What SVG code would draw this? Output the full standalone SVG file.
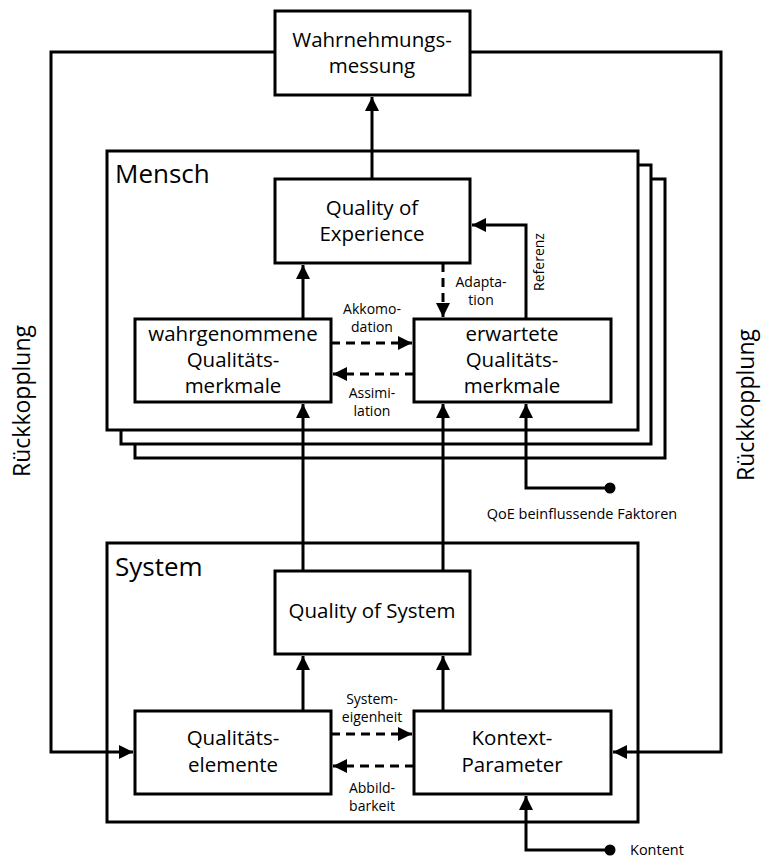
<svg xmlns="http://www.w3.org/2000/svg" width="761" height="859" viewBox="0 0 761 859">
  <style>
    .box { fill: #fff; stroke: #000; stroke-width: 3; }
    .frame { fill: #fff; stroke: #000; stroke-width: 3; }
    .line { fill: none; stroke: #000; stroke-width: 3; }
    .dash { fill: none; stroke: #000; stroke-width: 3; stroke-dasharray: 9 6; }
    .t { font-family: "Open Sans", "Noto Sans", sans-serif; font-size: 20.5px; fill: #000; text-anchor: middle; }
    .title { font-family: "Open Sans", "Noto Sans", sans-serif; font-size: 26px; fill: #000; }
    .s { font-family: "Open Sans", "Noto Sans", sans-serif; font-size: 14px; fill: #000; text-anchor: middle; }
    .f { font-family: "Open Sans", "Noto Sans", sans-serif; font-size: 14.5px; fill: #000; }
    .side { font-family: "Open Sans", "Noto Sans", sans-serif; font-size: 23px; fill: #000; text-anchor: middle; }
  </style>
  <defs>
    <marker id="arrow" markerUnits="userSpaceOnUse" markerWidth="16" markerHeight="14" refX="14" refY="7" orient="auto">
      <path d="M0,0 L14,7 L0,14 Z" fill="#000"/>
    </marker>
  </defs>

  <rect width="761" height="859" fill="#fff"/>

  <!-- Mensch: stacked frames -->
  <g id="mensch">
    <rect class="frame" x="135" y="179" width="530" height="279"/>
    <rect class="frame" x="121" y="165" width="530" height="279"/>
    <rect class="frame" x="107" y="151" width="531" height="279"/>
    <text class="title" x="115" y="183">Mensch</text>
  </g>

  <!-- System frame -->
  <g id="system">
    <rect class="frame" x="107" y="543" width="531" height="279"/>
    <text class="title" x="115" y="576">System</text>
  </g>

  <!-- Connectors -->
  <g id="connectors">
    <!-- feedback loops -->
    <path class="line" d="M275,52 H51 V752 H133" marker-end="url(#arrow)"/>
    <path class="line" d="M470,52 H721 V752 H613" marker-end="url(#arrow)"/>
    <!-- QoE to Wahrnehmungsmessung -->
    <path class="line" d="M372,179 V97" marker-end="url(#arrow)"/>
    <!-- wahrgenommene to QoE -->
    <path class="line" d="M303,319 V265" marker-end="url(#arrow)"/>
    <!-- Adaptation -->
    <path class="dash" d="M443,263 V317" marker-end="url(#arrow)"/>
    <!-- Referenz -->
    <path class="line" d="M526,319 V225 H472" marker-end="url(#arrow)"/>
    <!-- Akkomodation / Assimilation -->
    <path class="dash" d="M331,343 H412" marker-end="url(#arrow)"/>
    <path class="dash" d="M414,374 H333" marker-end="url(#arrow)"/>
    <!-- System to Mensch -->
    <path class="line" d="M303,571 V404" marker-end="url(#arrow)"/>
    <path class="line" d="M443,571 V404" marker-end="url(#arrow)"/>
    <!-- QoE influencing factors -->
    <path class="line" d="M610,488 H526 V404" marker-end="url(#arrow)"/>
    <circle cx="610" cy="488" r="5.5" fill="#000"/>
    <!-- System internal -->
    <path class="line" d="M303,711 V656" marker-end="url(#arrow)"/>
    <path class="line" d="M443,711 V656" marker-end="url(#arrow)"/>
    <path class="dash" d="M331,734 H412" marker-end="url(#arrow)"/>
    <path class="dash" d="M414,766 H333" marker-end="url(#arrow)"/>
    <!-- Kontent -->
    <path class="line" d="M610,850 H526 V796" marker-end="url(#arrow)"/>
    <circle cx="610" cy="850" r="5.5" fill="#000"/>
  </g>

  <!-- Connector labels -->
  <g id="labels">
    <text class="s" x="481" y="287">Adapta-</text>
    <text class="s" x="481" y="305">tion</text>
    <text class="s" transform="translate(544,262) rotate(-90)">Referenz</text>
    <text class="s" x="372" y="314">Akkomo-</text>
    <text class="s" x="372" y="332">dation</text>
    <text class="s" x="372" y="398">Assimi-</text>
    <text class="s" x="372" y="416">lation</text>
    <text class="s" x="372" y="704">System-</text>
    <text class="s" x="372" y="722">eigenheit</text>
    <text class="s" x="372" y="793">Abbild-</text>
    <text class="s" x="372" y="811">barkeit</text>
    <text class="f" x="582" y="519" style="text-anchor:middle">QoE beinflussende Faktoren</text>
    <text class="f" x="630" y="855">Kontent</text>
    <text class="side" transform="translate(30,401) rotate(-90)">Rückkopplung</text>
    <text class="side" transform="translate(754,405) rotate(-90)">Rückkopplung</text>
  </g>

  <!-- Nodes -->
  <g id="wahrnehmungsmessung">
    <rect class="box" x="275" y="11" width="195" height="84"/>
    <text class="t" x="372" y="47">Wahrnehmungs-</text>
    <text class="t" x="372" y="73">messung</text>
  </g>
  <g id="qoe">
    <rect class="box" x="275" y="179" width="195" height="84"/>
    <text class="t" x="372" y="215">Quality of</text>
    <text class="t" x="372" y="241">Experience</text>
  </g>
  <g id="wahrgenommene">
    <rect class="box" x="135" y="319" width="196" height="83"/>
    <text class="t" x="233" y="341">wahrgenommene</text>
    <text class="t" x="233" y="367">Qualitäts-</text>
    <text class="t" x="233" y="393">merkmale</text>
  </g>
  <g id="erwartete">
    <rect class="box" x="414" y="319" width="197" height="83"/>
    <text class="t" x="512" y="341">erwartete</text>
    <text class="t" x="512" y="367">Qualitäts-</text>
    <text class="t" x="512" y="393">merkmale</text>
  </g>
  <g id="qos">
    <rect class="box" x="275" y="571" width="195" height="83"/>
    <text class="t" x="372" y="618">Quality of System</text>
  </g>
  <g id="qualitaetselemente">
    <rect class="box" x="135" y="711" width="196" height="83"/>
    <text class="t" x="233" y="745">Qualitäts-</text>
    <text class="t" x="233" y="772">elemente</text>
  </g>
  <g id="kontext">
    <rect class="box" x="414" y="711" width="197" height="83"/>
    <text class="t" x="512" y="745">Kontext-</text>
    <text class="t" x="512" y="772">Parameter</text>
  </g>
</svg>
